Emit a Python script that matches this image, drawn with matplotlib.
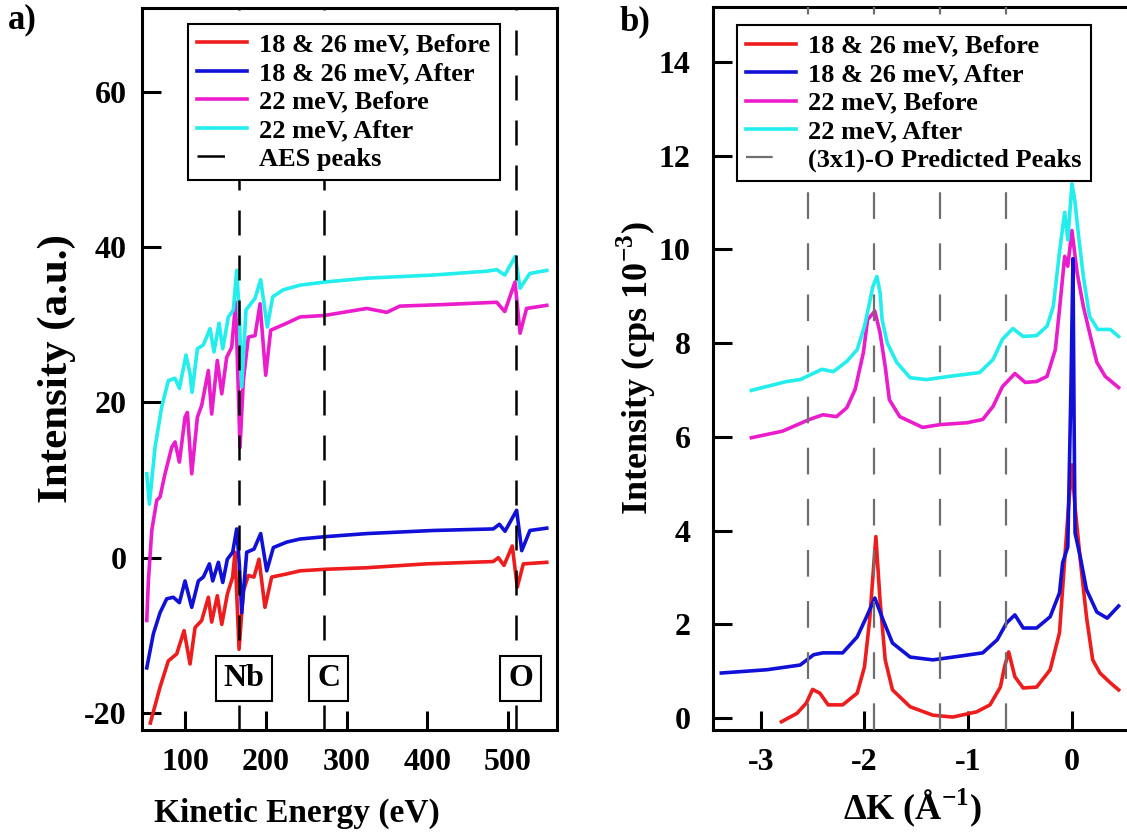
import matplotlib.pyplot as plt
from matplotlib.lines import Line2D

plt.rcParams['font.family'] = ['Liberation Serif', 'DejaVu Serif']
plt.rcParams['font.weight'] = 'bold'
plt.rcParams['axes.unicode_minus'] = False
plt.rcParams['mathtext.fontset'] = 'custom'
plt.rcParams['mathtext.rm'] = 'Liberation Serif:bold'
plt.rcParams['mathtext.bf'] = 'Liberation Serif:bold'

# ---- panel a) AES spectra ----
ke_1826_before = [57, 69, 79.3, 89.7, 98.8, 106.2, 112.4, 120.6, 128.9, 133, 140, 145.5, 152.4, 159,
                  161.9, 166.9, 172.2, 178.4, 185.4, 191.6, 199, 207.3, 225.9, 242.4, 273.4, 325,
                  399, 481.8, 488, 495, 505.3, 511.5, 519, 548]
i_1826_before = [-21.3, -16.7, -13.3, -12.4, -9.4, -13.7, -9.0, -8.1, -5.1, -8.3, -4.9, -8.6, -4.7, -2.5,
                 0.7, -11.8, -4.3, -2.3, -2.5, -0.2, -6.4, -2.5, -2.1, -1.7, -1.5, -1.3,
                 -0.8, -0.5, 0.0, -1.0, 1.5, -3.8, -0.8, -0.6]

ke_1826_after = [52.6, 60.8, 69, 77.3, 85.5, 93, 100, 108.3, 116.5, 122.7, 130.2, 134.3, 141.3, 146.7,
                 152.4, 159, 164, 167.2, 170.2, 176.4, 185.4, 193.7, 201.2, 209.4, 225.9, 242.4,
                 273.4, 325, 407.5, 481.8, 489.3, 496.3, 510.7, 517, 527.2, 548]
i_1826_after = [-14.2, -9.8, -7.1, -5.3, -5.1, -5.8, -3.0, -6.4, -3.0, -2.5, -0.8, -3.0, -0.6, -3.2,
                -0.2, 0.7, 3.7, -0.8, -7.1, 0.7, 1.1, 3.1, -1.7, 1.3, 2.0, 2.4,
                2.7, 3.1, 3.5, 3.7, 4.3, 3.4, 6.1, 0.9, 3.5, 3.8]

ke_22_before = [52.6, 54.6, 58.8, 65, 69, 75.2, 83.5, 87.6, 93, 100, 102.9, 108.3, 115.3, 120.6, 128.9,
                133, 140, 145.5, 151.6, 157.8, 162.7, 168.1, 172.2, 178.4, 186.7, 192.9, 199.9,
                206.1, 225.9, 242.4, 273, 325, 350, 366, 420, 486, 496, 508.7, 515, 523, 548]
i_22_before = [-8.1, -3.0, 3.5, 7.4, 7.8, 10.8, 14.2, 14.9, 12.3, 18.1, 18.7, 10.8, 18.1, 19.6, 24.1,
               18.5, 25.4, 21.1, 25.8, 27.1, 32.9, 14.2, 22.8, 28.4, 28.6, 32.7, 23.5,
               29.3, 30.2, 31.0, 31.2, 32.1, 31.6, 32.4, 32.6, 32.9, 31.7, 35.5, 28.9, 32.1, 32.5]

ke_22_after = [52.6, 55.9, 62.8, 71.1, 79.3, 87.6, 93, 101.2, 106.2, 108.7, 115.3, 122.7, 131, 135.9,
               142.1, 146.7, 153.6, 159.8, 164, 167.2, 170.2, 175.5, 186.7, 193.7, 201.9, 208.6,
               221.7, 242.4, 273, 325, 407, 474, 486, 496, 509, 515, 527, 548]
i_22_after = [10.8, 6.9, 14.2, 19.4, 22.8, 23.1, 21.8, 26.1, 23.7, 21.3, 26.9, 27.4, 29.5, 26.5,
              30.2, 26.9, 31.0, 31.9, 37.0, 31.4, 22.0, 31.9, 33.4, 35.8, 29.7, 33.6,
              34.5, 35.1, 35.5, 36.0, 36.4, 36.9, 37.1, 36.4, 38.8, 34.7, 36.6, 37.0]

aes_peaks = [167, 272, 510]
aes_labels = ['Nb', 'C', 'O']

# ---- panel b) HAS scans ----
dk_1826_before = [-2.80, -2.65, -2.56, -2.50, -2.43, -2.35, -2.21, -2.07, -2.00, -1.95, -1.89, -1.85,
                  -1.80, -1.73, -1.56, -1.34, -1.15, -0.92, -0.79, -0.69, -0.65, -0.61, -0.55, -0.47,
                  -0.34, -0.21, -0.12, -0.07, -0.03, 0.0, 0.03, 0.08, 0.14, 0.20, 0.27, 0.37, 0.45]
h_1826_before = [-0.08, 0.10, 0.32, 0.61, 0.53, 0.28, 0.28, 0.53, 1.09, 2.09, 3.87, 2.52,
                 1.24, 0.60, 0.24, 0.06, 0.02, 0.13, 0.28, 0.66, 1.09, 1.41, 0.88, 0.64,
                 0.66, 1.03, 1.82, 3.38, 4.6, 5.4, 4.5, 3.38, 2.16, 1.24, 0.96, 0.75, 0.60]

dk_1826_after = [-3.38, -2.94, -2.62, -2.49, -2.40, -2.21, -2.07, -1.98, -1.90, -1.82, -1.73, -1.56,
                 -1.34, -1.08, -0.86, -0.72, -0.63, -0.55, -0.47, -0.34, -0.21, -0.12, -0.09, -0.04,
                 -0.01, 0.01, 0.02, 0.03, 0.08, 0.14, 0.24, 0.34, 0.45]
h_1826_after = [0.96, 1.03, 1.13, 1.35, 1.39, 1.39, 1.73, 2.16, 2.56, 2.09, 1.60, 1.30,
                1.24, 1.32, 1.39, 1.67, 2.03, 2.20, 1.92, 1.92, 2.16, 2.67, 3.31, 3.65,
                7.0, 9.8, 6.5, 3.95, 3.44, 2.74, 2.26, 2.13, 2.39]

dk_22_before = [-3.09, -2.79, -2.53, -2.40, -2.27, -2.17, -2.09, -2.01, -1.97, -1.90, -1.85, -1.80,
                -1.76, -1.66, -1.44, -1.27, -1.01, -0.86, -0.76, -0.67, -0.55, -0.45, -0.34, -0.24,
                -0.16, -0.12, -0.07, -0.04, 0.0, 0.05, 0.11, 0.17, 0.24, 0.32, 0.45]
h_22_before = [5.98, 6.12, 6.37, 6.47, 6.43, 6.62, 7.01, 7.8, 8.5, 8.68, 8.22, 7.5,
               6.79, 6.43, 6.2, 6.26, 6.3, 6.37, 6.65, 7.07, 7.35, 7.16, 7.18, 7.29,
               7.86, 8.72, 9.85, 9.64, 10.4, 9.5, 8.78, 8.22, 7.59, 7.29, 7.05]

dk_22_after = [-3.09, -2.75, -2.62, -2.41, -2.30, -2.17, -2.07, -2.00, -1.95, -1.92, -1.88, -1.85,
               -1.83, -1.78, -1.69, -1.56, -1.40, -1.18, -0.89, -0.76, -0.67, -0.57, -0.47, -0.34,
               -0.24, -0.18, -0.12, -0.07, -0.04, 0.0, 0.03, 0.06, 0.11, 0.17, 0.25, 0.37, 0.45]
h_22_after = [6.99, 7.18, 7.22, 7.44, 7.39, 7.61, 7.86, 8.36, 8.87, 9.2, 9.42, 9.08,
              8.5, 8.0, 7.59, 7.26, 7.22, 7.29, 7.37, 7.65, 8.08, 8.31, 8.14, 8.16,
              8.36, 8.78, 9.94, 10.79, 10.2, 11.4, 11.0, 10.36, 9.42, 8.57, 8.29, 8.29, 8.14]

predicted_peaks = [-2.54, -1.905, -1.27, -0.635]

series_labels = ['18 & 26 meV, Before', '18 & 26 meV, After', '22 meV, Before', '22 meV, After']
colors = ['#ee1c1c', '#1010d8', '#ea1ccc', '#22eeee']

fig = plt.figure(figsize=(11.27, 8.4), dpi=100)
ax1 = fig.add_axes([142 / 1127, 110 / 840, 415 / 1127, 722 / 840])
ax2 = fig.add_axes([713 / 1127, 110 / 840, 427 / 1127, 723 / 840])

lw = 2.6
left_data = [(ke_1826_before, i_1826_before), (ke_1826_after, i_1826_after),
             (ke_22_before, i_22_before), (ke_22_after, i_22_after)]
handles1 = []
for (x, y), c, lab in zip(left_data, colors, series_labels):
    h, = ax1.plot(x, y, color=c, lw=lw, label=lab)
    handles1.append(h)
for e, lab in zip(aes_peaks, aes_labels):
    ax1.axvline(e, color='black', lw=1.8, dashes=(10, 8), zorder=4)
    ax1.text(e + 6, -15.6, lab, ha='center', va='center', fontsize=23, fontweight='bold', zorder=6,
             bbox=dict(boxstyle='square,pad=0.25', fc='white', ec='black', lw=1.5))
# legend handle shows a single dash, as in the original
aes_h = Line2D([], [], color='black', lw=1.8, dashes=(11, 20))

right_data = [(dk_1826_before, h_1826_before), (dk_1826_after, h_1826_after),
              (dk_22_before, h_22_before), (dk_22_after, h_22_after)]
handles2 = []
zo = [2.2, 2.6, 2.0, 2.1]
for (x, y), c, lab, z in zip(right_data, colors, series_labels, zo):
    h, = ax2.plot(x, y, color=c, lw=lw, label=lab, zorder=z)
    handles2.append(h)
for k in predicted_peaks:
    ax2.axvline(k, color='#6e6e6e', lw=1.6, dashes=(12, 11), zorder=4)
pred_h = Line2D([], [], color='#6e6e6e', lw=1.6, dashes=(12, 30))

ax1.set_xlim(46.7, 560.7)
ax1.set_ylim(-22.2, 70.8)
ax1.set_xticks([100, 200, 300, 400, 500])
ax1.set_yticks([-20, 0, 20, 40, 60])
ax2.set_xlim(-3.46, 0.656)
ax2.set_ylim(-0.256, 15.17)
ax2.set_xticks([-3, -2, -1, 0])
ax2.set_yticks([0, 2, 4, 6, 8, 10, 12, 14])

for ax in (ax1, ax2):
    ax.tick_params(direction='in', length=14, width=2.2, labelsize=23, top=False, right=False)
    ax.tick_params(axis='x', pad=13)
    ax.tick_params(axis='y', pad=11)
    for s in ax.spines.values():
        s.set_linewidth(2.2)
ax2.tick_params(axis='y', pad=16)

leg_kw = dict(loc='upper left', borderaxespad=0, fontsize=19, frameon=True, fancybox=False,
              framealpha=1, edgecolor='black', labelspacing=0.19, handlelength=1.9,
              handletextpad=0.45, borderpad=0.35)
l1 = ax1.legend(handles1 + [aes_h], series_labels + ['AES peaks'],
                bbox_to_anchor=(0.111, 0.978), **leg_kw)
l1.get_frame().set_linewidth(1.5)
l1.set_zorder(10)
l2 = ax2.legend(handles2 + [pred_h], series_labels + ['(3x1)-O Predicted Peaks'],
                bbox_to_anchor=(0.056, 0.975), **leg_kw)
l2.get_frame().set_linewidth(1.5)
l2.set_zorder(10)

ax1.set_xlabel('Kinetic Energy (eV)', fontsize=24, fontweight='bold')
ax1.xaxis.set_label_coords(0.373, -0.094)
ax1.set_ylabel('Intensity (a.u.)', fontsize=31, fontweight='bold')
ax1.yaxis.set_label_coords(-0.16, 0.5)
ax2.set_xlabel('ΔK (Å$^{-1}$)', fontsize=26, fontweight='bold')
ax2.xaxis.set_label_coords(0.468, -0.078)
ax2.set_ylabel('Intensity (cps 10$^{-3}$)', fontsize=26, fontweight='bold')
ax2.yaxis.set_label_coords(-0.129, 0.5)

fig.text(22 / 1127, 1 - 20 / 840, 'a)', fontsize=25, fontweight='bold', ha='center', va='center')
fig.text(635 / 1127, 1 - 22 / 840, 'b)', fontsize=25, fontweight='bold', ha='center', va='center')

fig.savefig('out.png', dpi=100)
